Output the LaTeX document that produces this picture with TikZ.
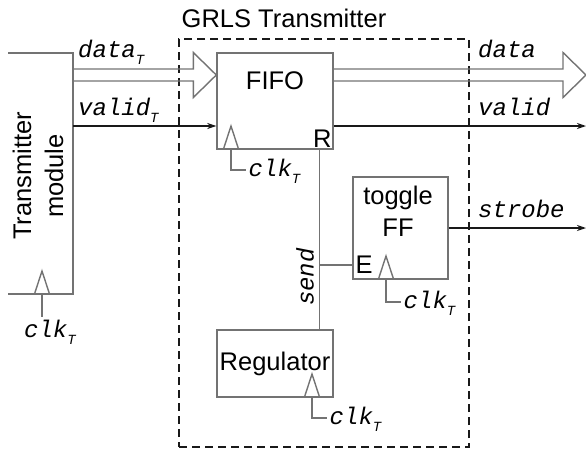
\documentclass[tikz,border=0pt]{standalone}
\usepackage{fontspec}
\setmainfont{Liberation Sans}
\setmonofont{Liberation Mono}
\usepackage{tikz}
\usetikzlibrary{arrows.meta,calc}
\tikzset{every node/.style={font=\fontsize{25.5}{32}\selectfont}}
\colorlet{wirecol}{black!55}
\colorlet{sigcol}{black!90}
\colorlet{framecol}{black!90}
\tikzset{
  blk/.style={draw=wirecol, line width=1.4pt, inner sep=0pt},
  wire/.style={draw=wirecol, line width=1.4pt},
  sigline/.style={draw=sigcol, line width=1.3pt, -{Stealth[length=9pt,width=6pt]}},
  sig/.style={font=\fontsize{24}{28}\selectfont\ttfamily\itshape, inner sep=0pt},
  bus/.style={draw=wirecol, line width=1.4pt, line join=miter},
}
\newcommand{\subT}{\raisebox{-7pt}{\fontsize{14}{14}\selectfont T}}
% hollow bus arrow between two points on the same row
\newcommand{\busarrow}[2]{%
  \draw[bus] let \p1=(#1), \p2=(#2) in
    (\x1,\y1+6pt) -- (\x2-23pt,\y1+6pt) -- (\x2-23pt,\y1+22.5pt) -- (\x2,\y1)
    -- (\x2-23pt,\y1-22.5pt) -- (\x2-23pt,\y1-6pt) -- (\x1,\y1-6pt);}

\begin{document}
\begin{tikzpicture}[x=1pt, y=-1pt, >=Stealth]
  \useasboundingbox (0,0) rectangle (586,450);

  % GRLS wrapper.
  \node[draw=framecol, line width=1.4pt, dash pattern=on 8pt off 5pt,
    minimum width=290pt, minimum height=408pt, inner sep=0pt] (grls) at (324,243) {};
  \node (title) at (284,18) {GRLS Transmitter};

  % Transmitter module (open on the left).
  \draw[wire] (8,53) -- (73,53) -- (73,294) -- (8,294);
  \node[rotate=90, align=center] (txmod) at (38,176) {Transmitter\\module};
  \coordinate (datain) at (73,75);
  \coordinate (validin) at (73,126);

  % Blocks.
  \node[blk, minimum width=116pt, minimum height=96pt] (fifo) at (275,101) {};
  \node (fifotxt) at (275,81) {FIFO};
  \node[anchor=south east, inner sep=2pt] (rin) at (fifo.south east) {R};
  \node[blk, minimum width=116pt, minimum height=67pt] (reg) at (275,363.5) {Regulator};
  \node[blk, minimum width=95pt, minimum height=102pt] (ff) at (400.5,228) {};
  \node[align=center] (fftxt) at (398,211) {toggle\\FF};
  \node[anchor=west, inner sep=3pt] (ein) at (ff.west |- 0,265) {E};

  % Outputs.
  \coordinate (dataout) at (586,75);
  \coordinate (validout) at (586,126);
  \coordinate (strobeout) at (586,228);

  % Data bus and valid.
  \busarrow{datain}{fifo.west |- datain}
  \busarrow{fifo.east |- datain}{dataout}
  \draw[sigline] (validin) -- (validin -| fifo.west);
  \draw[sigline] (validin -| fifo.east) -- (validout);
  \draw[sigline] (ff.east |- strobeout) -- (strobeout);

  % Send path.
  \coordinate (sendtop) at ($(fifo.south east)+(-14,0)$);
  \coordinate (sendbot) at ($(reg.north east)+(-14,0)$);
  \draw[wire] (sendtop) -- (sendbot);
  \draw[wire] (sendtop |- ein) -- (ein.west);
  \node[sig, rotate=90] (sendlbl) at (305,277) {send};

  % Signal labels.
  \node[sig, anchor=base west] (dataTlbl) at (78,57) {data\subT};
  \node[sig, anchor=base west] (validTlbl) at (78,115) {valid\subT};
  \node[sig, anchor=base west] (datalbl) at (478,57) {data};
  \node[sig, anchor=base west] (validlbl) at (478,115) {valid};
  \node[sig, anchor=base west] (strobelbl) at (478,217) {strobe};

  % Clock inputs.
  \foreach \cx/\cy/\dy/\nm in {231/149/21/fifo, 312/397/21/reg, 386/279/23/ff} {
    \draw[wire] (\cx-7.5,\cy) -- (\cx,\cy-23) -- (\cx+7.5,\cy);
    \draw[wire] (\cx,\cy) |- (\cx+15,\cy+\dy)
      node[sig, anchor=base west, inner sep=2pt, yshift=-6pt] (clk\nm) {clk\subT};
  }
  \draw[wire] (34.5,294) -- (42,271) -- (49.5,294);
  \draw[wire] (42,294) -- (42,317)
    node[sig, anchor=base, xshift=8pt, yshift=-20pt] (clkmod) {clk\subT};

\end{tikzpicture}
\end{document}
